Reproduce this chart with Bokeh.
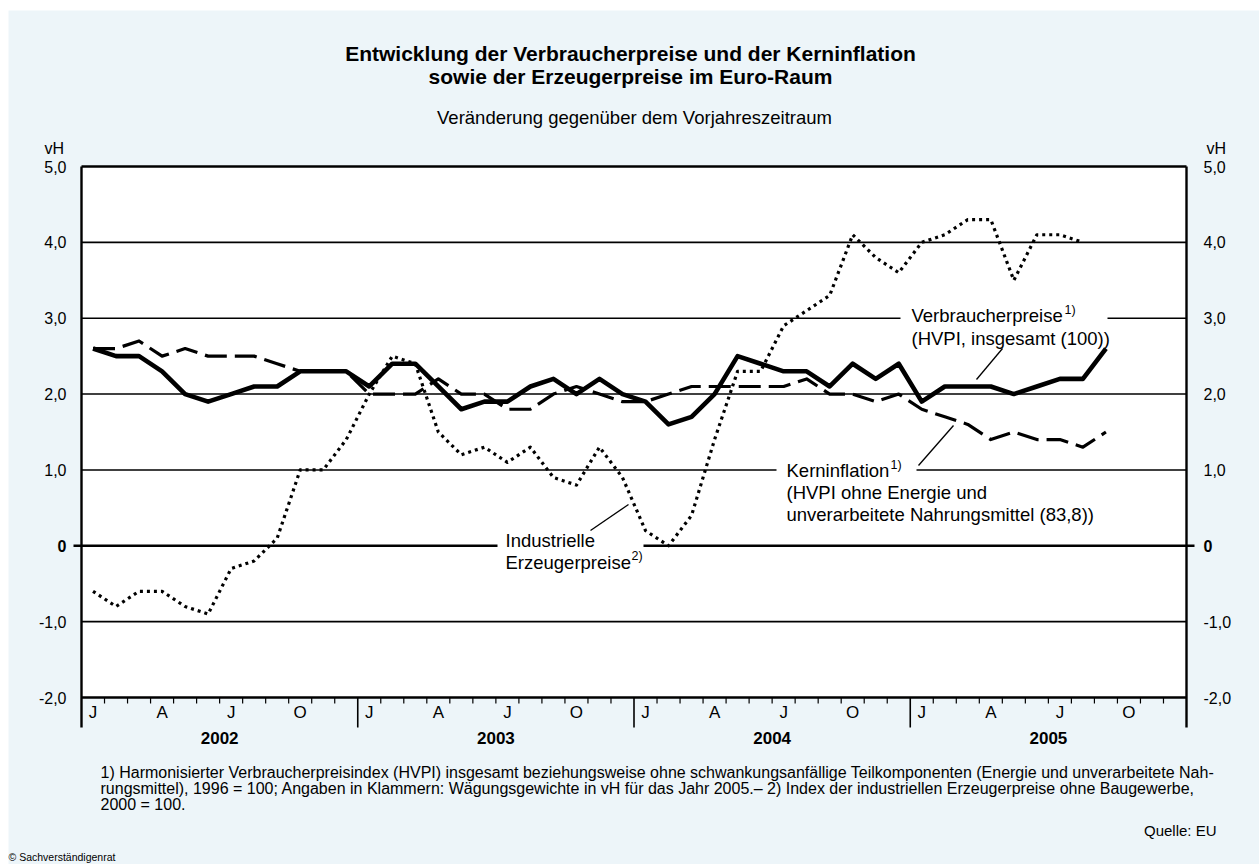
from bokeh.plotting import figure
from bokeh.models import Range1d
from bokeh.core.properties import value
from bokeh.embed import file_html
from bokeh.resources import INLINE

# ---------------- data ----------------
years = ["2002", "2003", "2004", "2005"]
month_letters = ["J", "A", "J", "O"]
month_letter_pos = [0, 3, 6, 9]
y_ticks = [-2, -1, 0, 1, 2, 3, 4, 5]
y_tick_labels = ["-2,0", "-1,0", "0", "1,0", "2,0", "3,0", "4,0", "5,0"]

# Verbraucherpreise (HVPI insgesamt), Jan 2002 - Sep 2005
hvpi = [2.6, 2.5, 2.5, 2.3, 2.0, 1.9, 2.0, 2.1, 2.1, 2.3, 2.3, 2.3,
        2.1, 2.4, 2.4, 2.1, 1.8, 1.9, 1.9, 2.1, 2.2, 2.0, 2.2, 2.0,
        1.9, 1.6, 1.7, 2.0, 2.5, 2.4, 2.3, 2.3, 2.1, 2.4, 2.2, 2.4,
        1.9, 2.1, 2.1, 2.1, 2.0, 2.1, 2.2, 2.2, 2.6]
# Kerninflation
kern = [2.6, 2.6, 2.7, 2.5, 2.6, 2.5, 2.5, 2.5, 2.4, 2.3, 2.3, 2.3,
        2.0, 2.0, 2.0, 2.2, 2.0, 2.0, 1.8, 1.8, 2.0, 2.1, 2.0, 1.9,
        1.9, 2.0, 2.1, 2.1, 2.1, 2.1, 2.1, 2.2, 2.0, 2.0, 1.9, 2.0,
        1.8, 1.7, 1.6, 1.4, 1.5, 1.4, 1.4, 1.3, 1.5]
# Industrielle Erzeugerpreise, Jan 2002 - Aug 2005
ppi = [-0.6, -0.8, -0.6, -0.6, -0.8, -0.9, -0.3, -0.2, 0.1, 1.0, 1.0, 1.4,
       2.0, 2.5, 2.4, 1.5, 1.2, 1.3, 1.1, 1.3, 0.9, 0.8, 1.3, 0.9,
       0.2, 0.0, 0.4, 1.4, 2.3, 2.3, 2.9, 3.1, 3.3, 4.1, 3.8, 3.6,
       4.0, 4.1, 4.3, 4.3, 3.5, 4.1, 4.1, 4.0]

# ---------------- layout helpers (picture pixels -> data) ----------------
W, H = 1259, 864
X0_PX, MONTH_PX = 81.0, 1105.0 / 48
Y_BOT_PX, UNIT_PX = 697.0, 531.0 / 7


def dx(px):
    return (px - X0_PX) / MONTH_PX


def dy(py):
    return (Y_BOT_PX - py) / UNIT_PX - 2.0


BG = "#EDF5F9"
FONT = value("Liberation Sans")

p = figure(width=W, height=H,
           x_range=Range1d(dx(0), dx(W)), y_range=Range1d(dy(H), dy(0)),
           output_backend="svg", toolbar_location=None,
           x_axis_location=None, y_axis_location=None,
           title_location=None, min_border=0)
p.outline_line_color = None
p.background_fill_color = "white"
p.border_fill_color = "white"
p.xgrid.visible = False
p.ygrid.visible = False

n_months = 12 * len(years)

# light blue panel
p.quad(left=[dx(8)], right=[dx(W + 2)], bottom=[dy(H + 2)], top=[dy(10)],
       fill_color=BG, line_color=None)
# plot box
p.quad(left=[0], right=[n_months], bottom=[y_ticks[0]], top=[y_ticks[-1]],
       fill_color="white", line_color=None)

# grid lines (with gaps behind the labels)
gx0, gx1, gy = [], [], []
for t in y_ticks[1:-1]:
    if t == 0:
        continue
    if t == 3:
        gx0 += [0, dx(1107)]; gx1 += [dx(900), n_months]; gy += [t, t]
    elif t == 1:
        gx0 += [0, dx(916)]; gx1 += [dx(776), n_months]; gy += [t, t]
    else:
        gx0 += [0]; gx1 += [n_months]; gy += [t]
p.segment(x0=gx0, y0=gy, x1=gx1, y1=gy, line_color="black", line_width=1.6)
# zero line (bold, extends beyond the box)
p.segment(x0=[dx(73), dx(643)], y0=[0, 0], x1=[dx(497), dx(1194)], y1=[0, 0],
          line_color="black", line_width=2.6)

# ---------------- series ----------------
xs_h = [i + 0.5 for i in range(len(hvpi))]
xs_k = [i + 0.5 for i in range(len(kern))]
xs_p = [i + 0.5 for i in range(len(ppi))]
p.line(xs_p, ppi, line_color="black", line_width=3.2, line_dash="3 4", line_join="round")
p.line(xs_k, kern, line_color="black", line_width=3.2, line_dash="22 8", line_join="round")
p.line(xs_h, hvpi, line_color="black", line_width=4.6, line_join="round")

# leader lines
p.segment(x0=[dx(1002), dx(953), dx(628)], y0=[dy(348), dy(425), dy(504)],
          x1=[dx(976), dx(918), dx(590)], y1=[dy(379), dy(465), dy(530)],
          line_color="black", line_width=1.3)

# ---------------- frame / axes ----------------
p.segment(x0=[0, 0], y0=[y_ticks[0], y_ticks[-1]], x1=[n_months, n_months],
          y1=[y_ticks[0], y_ticks[-1]], line_color="black", line_width=2.6)
p.segment(x0=[0, n_months], y0=[dy(727), dy(727)], x1=[0, n_months],
          y1=[y_ticks[-1], y_ticks[-1]], line_color="black", line_width=2.4)
# month ticks and year separators
mt = [m for m in range(1, n_months) if m % 12 != 0]
p.segment(x0=mt, y0=[y_ticks[0]] * len(mt), x1=mt, y1=[dy(703)] * len(mt),
          line_color="black", line_width=1.2)
ys = [12 * k for k in range(1, len(years))]
p.segment(x0=ys, y0=[y_ticks[0]] * len(ys), x1=ys, y1=[dy(727)] * len(ys),
          line_color="black", line_width=1.6)

# y tick labels
norm = [(t, l) for t, l in zip(y_ticks, y_tick_labels) if t != 0]
zero = [(t, l) for t, l in zip(y_ticks, y_tick_labels) if t == 0]
for xpos, align in ((dx(66), "right"), (dx(1203), "left")):
    p.text(x=[xpos] * len(norm), y=[t for t, _ in norm], text=[l for _, l in norm],
           text_font=FONT, text_font_size="16px", text_align=align,
           text_baseline="middle", text_color="black")
    p.text(x=[xpos] * len(zero), y=[t for t, _ in zero], text=[l for _, l in zero],
           text_font=FONT, text_font_size="16px", text_font_style="bold",
           text_align=align, text_baseline="middle", text_color="black")
p.text(x=[dx(44), dx(1206)], y=[dy(148)] * 2, text=["vH", "vH"], text_font=FONT,
       text_font_size="16px", text_align="left", text_baseline="middle")

# month letters and years
mx, mlab = [], []
for k in range(len(years)):
    for pos, lab in zip(month_letter_pos, month_letters):
        mx.append(12 * k + pos + 0.5)
        mlab.append(lab)
p.text(x=mx, y=[dy(712)] * len(mx), text=mlab, text_font=FONT, text_font_size="17px",
       text_align="center", text_baseline="middle")
p.text(x=[12 * k + 6 for k in range(len(years))], y=[dy(737)] * len(years), text=years,
       text_font=FONT, text_font_size="17px", text_font_style="bold",
       text_align="center", text_baseline="middle")

# ---------------- titles ----------------
p.text(x=[dx(630)] * 2, y=[dy(53), dy(76)],
       text=["Entwicklung der Verbraucherpreise und der Kerninflation",
             "sowie der Erzeugerpreise im Euro-Raum"],
       text_font=FONT, text_font_size="21px", text_font_style="bold",
       text_align="center", text_baseline="middle")
p.text(x=[dx(634)], y=[dy(117)], text=["Veränderung gegenüber dem Vorjahreszeitraum"],
       text_font=FONT, text_font_size="18.5px", text_align="center", text_baseline="middle")


# ---------------- series labels ----------------
def label(lines, x_px, y0_px, step, sup, sup_at):
    p.text(x=[dx(x_px)] * len(lines), y=[dy(y0_px + i * step) for i in range(len(lines))],
           text=lines, text_font=FONT, text_font_size="18.5px", text_align="left",
           text_baseline="middle")
    p.text(x=[dx(sup_at[0])], y=[dy(sup_at[1])], text=[sup], text_font=FONT,
           text_font_size="12.5px", text_align="left", text_baseline="middle")


label(["Verbraucherpreise", "(HVPI, insgesamt (100))"], 911, 315, 23, "1)", (1064, 309))
label(["Kerninflation", "(HVPI ohne Energie und",
       "unverarbeitete Nahrungsmittel (83,8))"], 786, 470, 22, "1)", (890, 464))
label(["Industrielle", "Erzeugerpreise"], 505, 540, 22, "2)", (631, 555))

# ---------------- footnotes ----------------
foot = ["1) Harmonisierter Verbraucherpreisindex (HVPI) insgesamt beziehungsweise ohne "
        "schwankungsanfällige Teilkomponenten (Energie und unverarbeitete Nah-",
        "rungsmittel), 1996 = 100; Angaben in Klammern: Wägungsgewichte in vH für das "
        "Jahr 2005.– 2) Index der industriellen Erzeugerpreise ohne Baugewerbe,",
        "2000 = 100."]
p.text(x=[dx(100)] * 3, y=[dy(772), dy(788), dy(804)], text=foot, text_font=FONT,
       text_font_size="16px", text_align="left", text_baseline="middle")
p.text(x=[dx(1216)], y=[dy(830)], text=["Quelle: EU"], text_font=FONT,
       text_font_size="15px", text_align="right", text_baseline="middle")
p.text(x=[dx(8)], y=[dy(856)], text=["© Sachverständigenrat"], text_font=FONT,
       text_font_size="10.5px", text_align="left", text_baseline="middle")

open("out.html", "w").write(file_html(p, INLINE))
